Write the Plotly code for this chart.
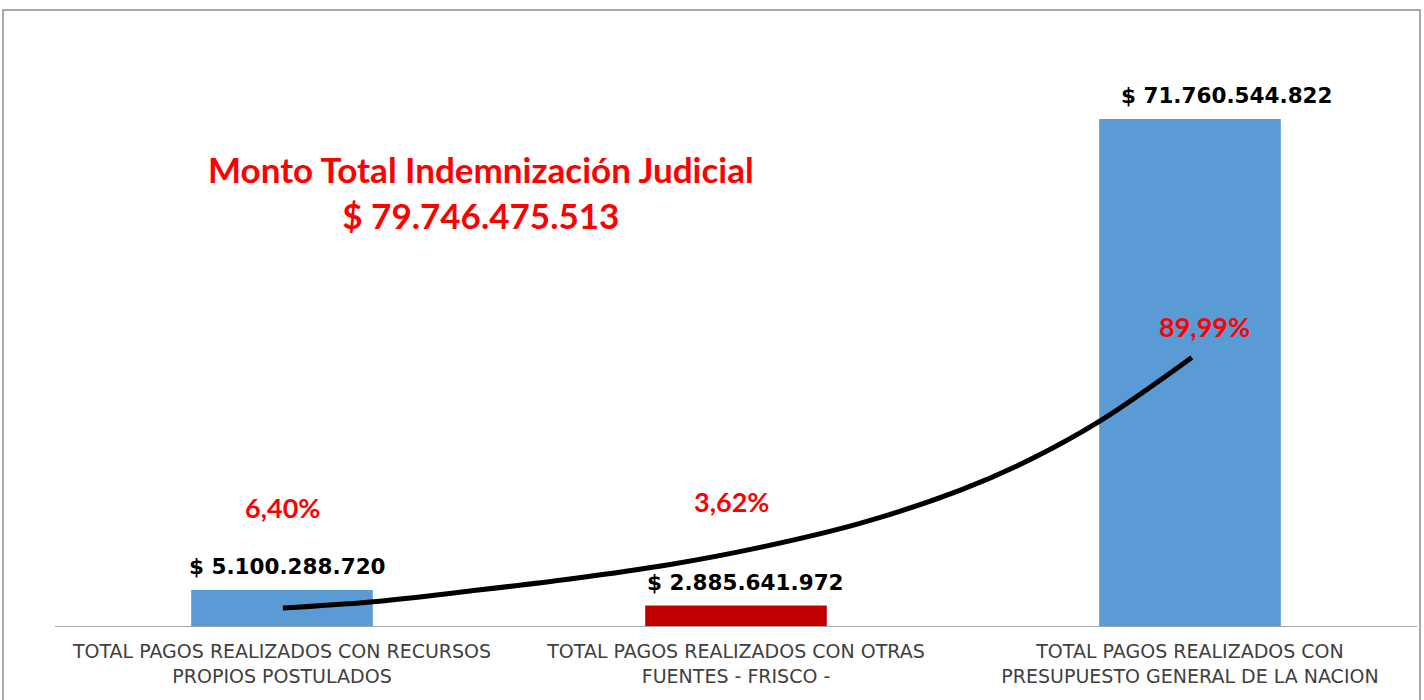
import plotly.graph_objects as go

categories = [
    "TOTAL PAGOS REALIZADOS CON RECURSOS<br>PROPIOS POSTULADOS",
    "TOTAL PAGOS REALIZADOS CON OTRAS<br>FUENTES - FRISCO -",
    "TOTAL PAGOS REALIZADOS CON<br>PRESUPUESTO GENERAL DE LA NACION",
]
values = [5100288720, 2885641972, 71760544822]
value_labels = ["$ 5.100.288.720", "$ 2.885.641.972", "$ 71.760.544.822"]
pct_labels = ["6,40%", "3,62%", "89,99%"]
total_label = "Monto Total Indemnización Judicial<br>$ 79.746.475.513"

# hand-drawn trend curve (x in category units, y in pesos)
trend_x = [0.002, 0.194, 0.414, 0.634, 0.855, 1.053, 1.273, 1.493, 1.648, 1.802, 2.004]
trend_y = [2.55e9, 3.40e9, 4.95e9, 6.65e9, 8.70e9, 11.12e9, 14.52e9, 19.19e9, 23.55e9, 29.02e9, 38.0e9]

bar_colors = ["#5B9BD5", "#C00000", "#5B9BD5"]

fig = go.Figure()
x_pos = list(range(len(categories)))
fig.add_trace(go.Bar(x=x_pos, y=values, width=0.40, marker_color=bar_colors,
                     marker_line_width=0, hoverinfo="skip"))
fig.add_trace(go.Scatter(x=trend_x, y=trend_y, mode="lines",
                         line=dict(color="black", width=5, shape="spline", smoothing=1.0),
                         hoverinfo="skip"))

label_xshift = [5, 9, 37]
for i, (v, t) in enumerate(zip(values, value_labels)):
    fig.add_annotation(x=i, y=v, text=t, showarrow=False, yanchor="bottom",
                       xshift=label_xshift[i], yshift=9,
                       font=dict(family="DejaVu Sans", size=21.5, color="black", weight="bold"))

pct_pos = [(0.0, 16.8e9), (0.99, 17.6e9), (2.033, 42.4e9)]
for (px, py), t in zip(pct_pos, pct_labels):
    fig.add_annotation(x=px, y=py, text=t, showarrow=False,
                       font=dict(family="Lato", size=27, color="#FF0000", weight="bold"))

fig.add_annotation(x=0.438, y=61.4e9, text=total_label, showarrow=False,
                   font=dict(family="Lato", size=35, color="#FF0000", weight="bold"))

fig.update_layout(
    width=1424, height=700,
    margin=dict(l=55, r=7, t=40, b=74),
    plot_bgcolor="white", paper_bgcolor="white",
    showlegend=False,
    bargap=0.6,
    xaxis=dict(range=[-0.5, 2.5], tickvals=x_pos, ticktext=categories,
               showgrid=False, zeroline=False, showline=True, linecolor="#A6A6A6", linewidth=1,
               ticks="", ticklabelstandoff=8,
               tickfont=dict(family="DejaVu Sans", size=19, color="#404040")),
    yaxis=dict(range=[0, 82.94e9], visible=False, showgrid=False, zeroline=False),
)

fig.add_shape(type="rect", xref="paper", yref="paper",
              x0=-0.0382, x1=1.0022, y0=-0.2, y1=1.0512,
              line=dict(color="#8C8C8C", width=1.5), fillcolor="rgba(0,0,0,0)", layer="below")

fig.write_html("out.html", config={"displayModeBar": False},
               post_script="document.body.style.margin='0px';document.body.style.overflow='hidden';")
